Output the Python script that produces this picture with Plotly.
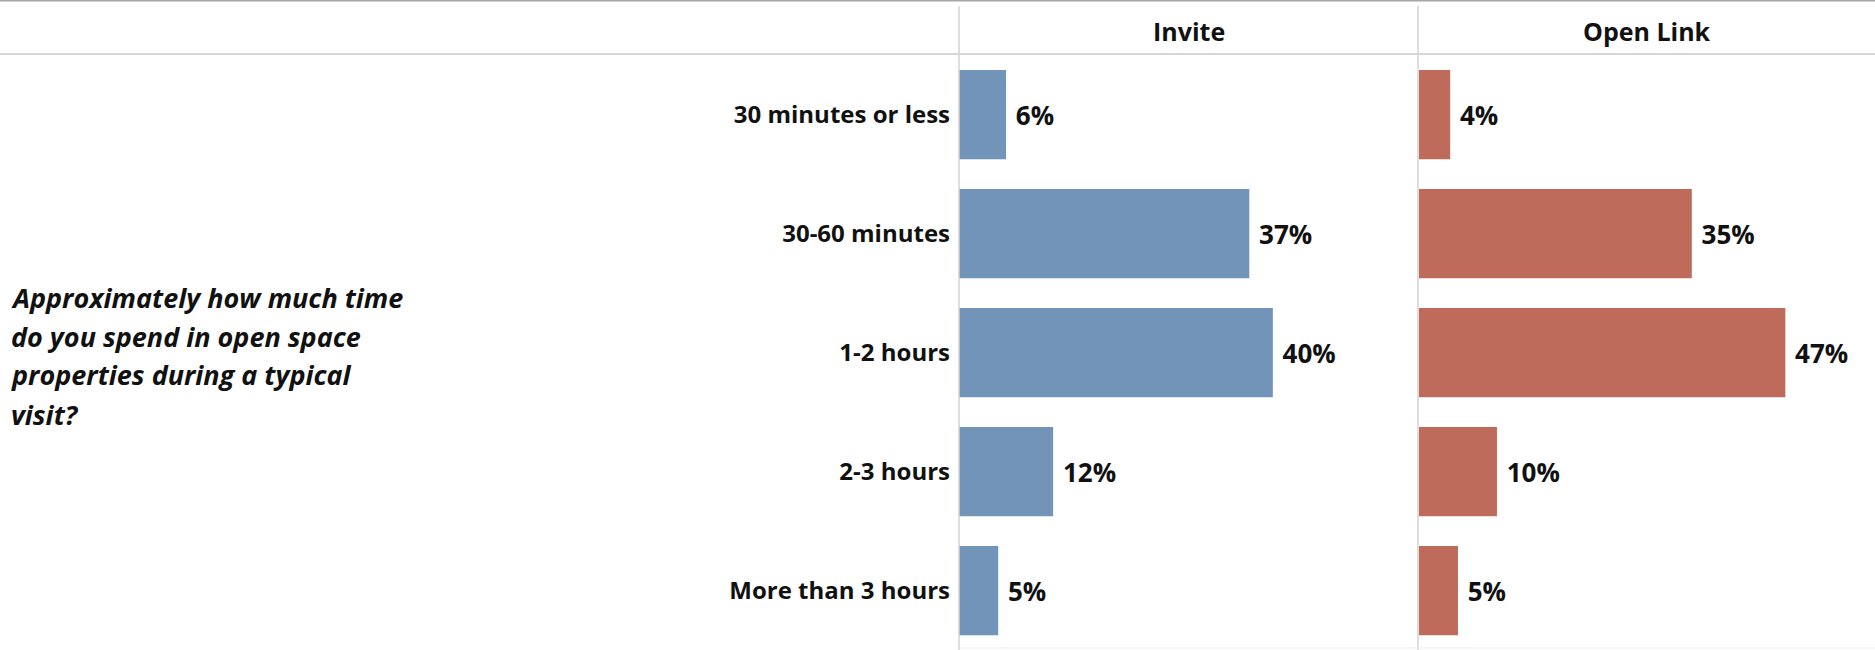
import plotly.graph_objects as go

# Survey results: time spent per visit, split by recruitment channel
categories = ["30 minutes or less", "30-60 minutes", "1-2 hours", "2-3 hours", "More than 3 hours"]
invite_pct = [6, 37, 40, 12, 5]
open_link_pct = [4, 35, 47, 10, 5]
panel_titles = ["Invite", "Open Link"]
question_lines = ["Approximately how much time", "do you spend in open space",
                  "properties during a typical", "visit?"]

W, H = 1875, 650
FONT = "Open Sans"
BLUE = "#7294B9"
RED = "#BE6B5C"
INK = "#111111"


def px_x(x):
    return x / W


def px_y(y):
    return 1 - y / H


fig = go.Figure()

for vals, color, xa, ya in [(invite_pct, BLUE, "x", "y"), (open_link_pct, RED, "x2", "y2")]:
    fig.add_trace(go.Bar(
        x=vals, y=categories, orientation="h",
        marker=dict(color=color, line=dict(width=0)),
        width=0.75,
        texttemplate="\u00a0%{x}%", textposition="outside",
        textfont=dict(family=FONT, size=26, color=INK, weight="bold"),
        constraintext="none", cliponaxis=False,
        xaxis=xa, yaxis=ya, showlegend=False, hoverinfo="skip",
    ))

y_dom = [0, px_y(55)]
x_range = [0, 58.5]
fig.update_layout(
    width=W, height=H,
    margin=dict(l=0, r=0, t=0, b=0),
    paper_bgcolor="white", plot_bgcolor="white",
    xaxis=dict(domain=[px_x(959), px_x(1418)], range=x_range, visible=False, fixedrange=True),
    xaxis2=dict(domain=[px_x(1419), 1], range=x_range, visible=False, fixedrange=True),
    yaxis=dict(domain=y_dom, anchor="x", categoryorder="array", categoryarray=categories,
               autorange="reversed", showgrid=False, zeroline=False, showline=False,
               ticks="", ticklabelstandoff=8,
               tickfont=dict(family=FONT, size=24, color=INK, weight="bold")),
    yaxis2=dict(domain=y_dom, anchor="x2", matches="y", showticklabels=False,
                showgrid=False, zeroline=False, showline=False),
)

# Frame lines: top border, header rule, panel separators, bottom rule
shapes = [
    dict(type="line", xref="paper", yref="paper", x0=0, x1=1, y0=px_y(0.5), y1=px_y(0.5),
         line=dict(color="#A6A6A6", width=2)),
    dict(type="line", xref="paper", yref="paper", x0=0, x1=1, y0=px_y(54), y1=px_y(54),
         line=dict(color="#D6D6D6", width=2)),
    dict(type="line", xref="paper", yref="paper", x0=px_x(959), x1=px_x(959), y0=px_y(6), y1=0,
         line=dict(color="#D3D3D3", width=1.5)),
    dict(type="line", xref="paper", yref="paper", x0=px_x(1418), x1=px_x(1418), y0=px_y(6), y1=0,
         line=dict(color="#D3D3D3", width=1.5)),
    dict(type="line", xref="paper", yref="paper", x0=px_x(959), x1=1, y0=px_y(648), y1=px_y(648),
         line=dict(color="#EDEDED", width=1)),
]
fig.update_layout(shapes=shapes)

annotations = []
for title, cx in zip(panel_titles, [(959 + 1418) / 2, (1418 + 1875) / 2]):
    annotations.append(dict(
        text=title, x=px_x(cx), y=px_y(31), xref="paper", yref="paper",
        xanchor="center", yanchor="middle", showarrow=False,
        font=dict(family=FONT, size=25, color=INK, weight="bold"),
    ))

for i, line in enumerate(question_lines):
    annotations.append(dict(
        text=f"<i>{line}</i>", x=px_x(9), y=px_y(297 + 39 * i), xref="paper", yref="paper",
        xanchor="left", yanchor="middle", showarrow=False,
        font=dict(family=FONT, size=27, color=INK, weight="bold"),
    ))
fig.update_layout(annotations=annotations)

fig.write_html("out.html")
